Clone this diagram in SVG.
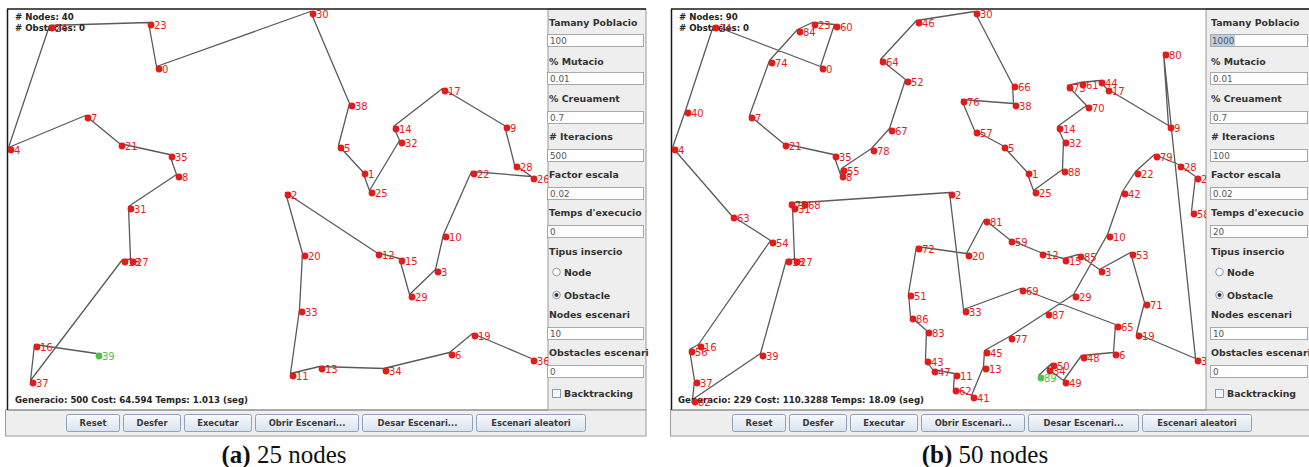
<svg xmlns="http://www.w3.org/2000/svg" width="1309" height="467" viewBox="0 0 1309 467">
<defs>
<style>
.canvas{fill:#ffffff}
.frame{fill:none;stroke:#1a1a1a;stroke-width:1.5}
.side{fill:#eeeeee;stroke:#9a9a9a;stroke-width:1}
.panel{fill:#eeeeee;stroke:#9a9a9a;stroke-width:1}
.edge{fill:none;stroke:#5a5a5a;stroke-width:1.3;stroke-linejoin:round}
.n circle{fill:#e31b1b}
.n text{font-family:"DejaVu Sans",sans-serif;font-size:10px;fill:#e31b1b}
.start circle{fill:#4cc24c}
.start text{fill:#4cc24c}
.hdr{font-family:"DejaVu Sans",sans-serif;font-weight:bold;font-size:8.6px;fill:#222}
.sl{font-family:"DejaVu Sans",sans-serif;font-weight:bold;font-size:9.4px;fill:#333}
.fld{fill:#ffffff;stroke:#a8a8a8;stroke-width:1}
.ft{font-family:"DejaVu Sans",sans-serif;font-size:8.8px;fill:#555}
.btn{fill:url(#bg);stroke:#8ea3bb;stroke-width:1}
.bt{font-family:"DejaVu Sans",sans-serif;font-weight:bold;font-size:8.4px;fill:#3a3a3a;text-anchor:middle}
.cap{font-family:"Liberation Serif",serif;font-size:25px;fill:#111;text-anchor:middle}
.radio{fill:#ffffff;stroke:#8a9bb0;stroke-width:1}
</style>
<linearGradient id="bg" x1="0" y1="0" x2="0" y2="1">
<stop offset="0" stop-color="#f7f9fc"/>
<stop offset="1" stop-color="#d9e3ee"/>
</linearGradient>
<clipPath id="clipA"><rect x="8" y="9" width="540" height="401"/></clipPath>
<clipPath id="clipB"><rect x="672" y="9" width="534" height="401"/></clipPath>
</defs>
<rect width="1309" height="467" fill="#ffffff"/>

<!-- ===== Left window (a) ===== -->
<g id="windowA">
<rect class="canvas" x="8" y="9" width="540" height="401"/>
<rect class="side" x="548" y="9" width="98" height="401"/>
<rect class="panel" x="5.5" y="410" width="640.5" height="26"/>
<line class="frame" x1="7" y1="9" x2="646" y2="9"/>
<line class="frame" x1="7.5" y1="9" x2="7.5" y2="410"/>
<line x1="8" y1="410" x2="548" y2="410" stroke="#888" stroke-width="1"/>
</g>

<g id="connectorsA" clip-path="url(#clipA)">
<polyline class="edge" transform="translate(-2.5,-2.5)" points="99,356 37,347 33,383 125,262 133,262 131,209 179,177 172,157 122,146 88,118 11,150 52,28 151,25 159,69 313,14 352,106 341,148 365,174 372,193 402,143 396,129 445,91 507,128 517,167 534,179 474,174 446,237 438,272 412,297 402,261 379,255 288,195 305,256 302,312 293,376 322,369 386,371 452,355 475,336 534,361"/>
</g>

<g id="infoA">
<text class="hdr" x="15" y="20">#  Nodes: 40</text>
<text class="hdr" x="15" y="31"># Obstacles: 0</text>
<text class="hdr" x="15" y="403" textLength="233">Generacio: 500 Cost: 64.594 Temps: 1.013 (seg)</text>
</g>

<g id="nodesA" clip-path="url(#clipA)">
<g id="a-n0" class="n" transform="translate(159,69)"><circle r="3.4"/><text x="3" y="3.5">0</text></g>
<g id="a-n1" class="n" transform="translate(365,174)"><circle r="3.4"/><text x="3" y="3.5">1</text></g>
<g id="a-n2" class="n" transform="translate(288,195)"><circle r="3.4"/><text x="3" y="3.5">2</text></g>
<g id="a-n3" class="n" transform="translate(438,272)"><circle r="3.4"/><text x="3" y="3.5">3</text></g>
<g id="a-n4" class="n" transform="translate(11,150)"><circle r="3.4"/><text x="3" y="3.5">4</text></g>
<g id="a-n5" class="n" transform="translate(341,148)"><circle r="3.4"/><text x="3" y="3.5">5</text></g>
<g id="a-n6" class="n" transform="translate(452,355)"><circle r="3.4"/><text x="3" y="3.5">6</text></g>
<g id="a-n7" class="n" transform="translate(88,118)"><circle r="3.4"/><text x="3" y="3.5">7</text></g>
<g id="a-n8" class="n" transform="translate(179,177)"><circle r="3.4"/><text x="3" y="3.5">8</text></g>
<g id="a-n9" class="n" transform="translate(507,128)"><circle r="3.4"/><text x="3" y="3.5">9</text></g>
<g id="a-n10" class="n" transform="translate(446,237)"><circle r="3.4"/><text x="3" y="3.5">10</text></g>
<g id="a-n11" class="n" transform="translate(293,376)"><circle r="3.4"/><text x="3" y="3.5">11</text></g>
<g id="a-n12" class="n" transform="translate(379,255)"><circle r="3.4"/><text x="3" y="3.5">12</text></g>
<g id="a-n13" class="n" transform="translate(322,369)"><circle r="3.4"/><text x="3" y="3.5">13</text></g>
<g id="a-n14" class="n" transform="translate(396,129)"><circle r="3.4"/><text x="3" y="3.5">14</text></g>
<g id="a-n15" class="n" transform="translate(402,261)"><circle r="3.4"/><text x="3" y="3.5">15</text></g>
<g id="a-n16" class="n" transform="translate(37,347)"><circle r="3.4"/><text x="3" y="3.5">16</text></g>
<g id="a-n17" class="n" transform="translate(445,91)"><circle r="3.4"/><text x="3" y="3.5">17</text></g>
<g id="a-n18" class="n" transform="translate(125,262)"><circle r="3.4"/><text x="3" y="3.5">18</text></g>
<g id="a-n19" class="n" transform="translate(475,336)"><circle r="3.4"/><text x="3" y="3.5">19</text></g>
<g id="a-n20" class="n" transform="translate(305,256)"><circle r="3.4"/><text x="3" y="3.5">20</text></g>
<g id="a-n21" class="n" transform="translate(122,146)"><circle r="3.4"/><text x="3" y="3.5">21</text></g>
<g id="a-n22" class="n" transform="translate(474,174)"><circle r="3.4"/><text x="3" y="3.5">22</text></g>
<g id="a-n23" class="n" transform="translate(151,25)"><circle r="3.4"/><text x="3" y="3.5">23</text></g>
<g id="a-n24" class="n" transform="translate(52,28)"><circle r="3.4"/><text x="3" y="3.5">24</text></g>
<g id="a-n25" class="n" transform="translate(372,193)"><circle r="3.4"/><text x="3" y="3.5">25</text></g>
<g id="a-n26" class="n" transform="translate(534,179)"><circle r="3.4"/><text x="3" y="3.5">26</text></g>
<g id="a-n27" class="n" transform="translate(133,262)"><circle r="3.4"/><text x="3" y="3.5">27</text></g>
<g id="a-n28" class="n" transform="translate(517,167)"><circle r="3.4"/><text x="3" y="3.5">28</text></g>
<g id="a-n29" class="n" transform="translate(412,297)"><circle r="3.4"/><text x="3" y="3.5">29</text></g>
<g id="a-n30" class="n" transform="translate(313,14)"><circle r="3.4"/><text x="3" y="3.5">30</text></g>
<g id="a-n31" class="n" transform="translate(131,209)"><circle r="3.4"/><text x="3" y="3.5">31</text></g>
<g id="a-n32" class="n" transform="translate(402,143)"><circle r="3.4"/><text x="3" y="3.5">32</text></g>
<g id="a-n33" class="n" transform="translate(302,312)"><circle r="3.4"/><text x="3" y="3.5">33</text></g>
<g id="a-n34" class="n" transform="translate(386,371)"><circle r="3.4"/><text x="3" y="3.5">34</text></g>
<g id="a-n35" class="n" transform="translate(172,157)"><circle r="3.4"/><text x="3" y="3.5">35</text></g>
<g id="a-n36" class="n" transform="translate(534,361)"><circle r="3.4"/><text x="3" y="3.5">36</text></g>
<g id="a-n37" class="n" transform="translate(33,383)"><circle r="3.4"/><text x="3" y="3.5">37</text></g>
<g id="a-n38" class="n" transform="translate(352,106)"><circle r="3.4"/><text x="3" y="3.5">38</text></g>
<g id="a-n39" class="n start" transform="translate(99,356)"><circle r="3.4"/><text x="3" y="3.5">39</text></g>
</g>

<g id="sidebarA">
<text class="sl" x="549" y="26">Tamany Poblacio</text>
<rect class="fld" x="547.5" y="34.5" width="96" height="12"/><text class="ft" x="550" y="44">100</text>
<text class="sl" x="549" y="65">% Mutacio</text>
<rect class="fld" x="547.5" y="72.5" width="96" height="12"/><text class="ft" x="550" y="82">0.01</text>
<text class="sl" x="549" y="102">% Creuament</text>
<rect class="fld" x="547.5" y="111.5" width="96" height="12"/><text class="ft" x="550" y="121">0.7</text>
<text class="sl" x="549" y="140">#  Iteracions</text>
<rect class="fld" x="547.5" y="149.5" width="96" height="12"/><text class="ft" x="550" y="159">500</text>
<text class="sl" x="549" y="178">Factor escala</text>
<rect class="fld" x="547.5" y="187.5" width="96" height="12"/><text class="ft" x="550" y="197">0.02</text>
<text class="sl" x="549" y="216">Temps d'execucio</text>
<rect class="fld" x="547.5" y="225.5" width="96" height="12"/><text class="ft" x="550" y="235">0</text>
<text class="sl" x="549" y="255">Tipus insercio</text>
<circle class="radio" cx="556.5" cy="272" r="3.8"/><text class="sl" x="564" y="275.5">Node</text>
<circle class="radio" cx="556.5" cy="295" r="3.8"/><circle cx="556.5" cy="295" r="2" fill="#333"/><text class="sl" x="564" y="298.5">Obstacle</text>
<text class="sl" x="549" y="318">Nodes escenari</text>
<rect class="fld" x="547.5" y="327.5" width="96" height="12"/><text class="ft" x="550" y="337">10</text>
<text class="sl" x="549" y="356">Obstacles escenari</text>
<rect class="fld" x="547.5" y="365.5" width="96" height="12"/><text class="ft" x="550" y="375">0</text>
<rect x="552.5" y="389.5" width="8" height="8" fill="#f4f7fb" stroke="#8a9bb0"/><text class="sl" x="564" y="397">Backtracking</text>
</g>

<g id="buttonsA">
<rect class="btn" x="66.5" y="414.5" width="53" height="17" rx="2"/><text class="bt" x="93" y="426">Reset</text>
<rect class="btn" x="123.5" y="414.5" width="57" height="17" rx="2"/><text class="bt" x="152" y="426">Desfer</text>
<rect class="btn" x="184.5" y="414.5" width="67" height="17" rx="2"/><text class="bt" x="218" y="426">Executar</text>
<rect class="btn" x="255.5" y="414.5" width="103" height="17" rx="2"/><text class="bt" x="307" y="426">Obrir Escenari...</text>
<rect class="btn" x="362.5" y="414.5" width="110" height="17" rx="2"/><text class="bt" x="417.5" y="426">Desar Escenari...</text>
<rect class="btn" x="476.5" y="414.5" width="109" height="17" rx="2"/><text class="bt" x="531" y="426">Escenari aleatori</text>
</g>

<text id="captionA" class="cap" x="284" y="463"><tspan font-weight="bold">(a)</tspan> 25 nodes</text>

<!-- ===== Right window (b) ===== -->
<g id="windowB">
<rect class="canvas" x="672" y="9" width="534" height="401"/>
<rect class="side" x="1206" y="9" width="104" height="401"/>
<rect class="panel" x="670.5" y="410" width="640" height="26"/>
<line class="frame" x1="671" y1="9" x2="1309" y2="9"/>
<line class="frame" x1="671.5" y1="9" x2="671.5" y2="410"/>
<line x1="672" y1="410" x2="1206" y2="410" stroke="#888" stroke-width="1"/>
</g>

<g id="connectorsB" clip-path="url(#clipB)">
<polyline class="edge" transform="translate(-2.5,-2.5)" points="1041,378 1054,366 1050,371 1066,383 1084,358 1116,355 1118,327 1023,291 966,312 952,195 805,205 792,205 795,209 797,262 789,262 763,356 695,402 697,383 692,352 701,347 773,243 734,218 675,150 688,113 716,28 823,69 837,27 815,25 800,32 772,63 752,118 786,146 836,157 843,177 844,171 874,151 892,131 908,82 883,62 919,23 977,14 1015,87 1016,106 964,102 977,133 1005,148 1029,174 1036,193 1065,172 1066,143 1060,129 1089,108 1070,88 1083,85 1102,83 1109,91 1171,128 1166,55 1198,361 1139,336 1147,305 1133,255 1102,272 1081,257 1066,261 1043,255 1012,242 987,222 969,256 919,249 911,296 913,319 929,333 928,362 935,372 957,376 956,391 974,398 986,369 987,353 1012,339 1049,315 1076,297 1110,237 1125,194 1138,174 1157,157 1181,167 1198,179 1194,214"/>
</g>

<g id="infoB">
<text class="hdr" x="679" y="20">#  Nodes: 90</text>
<text class="hdr" x="679" y="31"># Obstacles: 0</text>
<text class="hdr" x="678" y="403" textLength="246">Generacio: 229 Cost: 110.3288 Temps: 18.09 (seg)</text>
</g>

<g id="nodesB" clip-path="url(#clipB)">
<g id="b-n0" class="n" transform="translate(823,69)"><circle r="3.4"/><text x="3" y="3.5">0</text></g>
<g id="b-n1" class="n" transform="translate(1029,174)"><circle r="3.4"/><text x="3" y="3.5">1</text></g>
<g id="b-n2" class="n" transform="translate(952,195)"><circle r="3.4"/><text x="3" y="3.5">2</text></g>
<g id="b-n3" class="n" transform="translate(1102,272)"><circle r="3.4"/><text x="3" y="3.5">3</text></g>
<g id="b-n4" class="n" transform="translate(675,150)"><circle r="3.4"/><text x="3" y="3.5">4</text></g>
<g id="b-n5" class="n" transform="translate(1005,148)"><circle r="3.4"/><text x="3" y="3.5">5</text></g>
<g id="b-n6" class="n" transform="translate(1116,355)"><circle r="3.4"/><text x="3" y="3.5">6</text></g>
<g id="b-n7" class="n" transform="translate(752,118)"><circle r="3.4"/><text x="3" y="3.5">7</text></g>
<g id="b-n8" class="n" transform="translate(843,177)"><circle r="3.4"/><text x="3" y="3.5">8</text></g>
<g id="b-n9" class="n" transform="translate(1171,128)"><circle r="3.4"/><text x="3" y="3.5">9</text></g>
<g id="b-n10" class="n" transform="translate(1110,237)"><circle r="3.4"/><text x="3" y="3.5">10</text></g>
<g id="b-n11" class="n" transform="translate(957,376)"><circle r="3.4"/><text x="3" y="3.5">11</text></g>
<g id="b-n12" class="n" transform="translate(1043,255)"><circle r="3.4"/><text x="3" y="3.5">12</text></g>
<g id="b-n13" class="n" transform="translate(986,369)"><circle r="3.4"/><text x="3" y="3.5">13</text></g>
<g id="b-n14" class="n" transform="translate(1060,129)"><circle r="3.4"/><text x="3" y="3.5">14</text></g>
<g id="b-n15" class="n" transform="translate(1066,261)"><circle r="3.4"/><text x="3" y="3.5">15</text></g>
<g id="b-n16" class="n" transform="translate(701,347)"><circle r="3.4"/><text x="3" y="3.5">16</text></g>
<g id="b-n17" class="n" transform="translate(1109,91)"><circle r="3.4"/><text x="3" y="3.5">17</text></g>
<g id="b-n18" class="n" transform="translate(789,262)"><circle r="3.4"/><text x="3" y="3.5">18</text></g>
<g id="b-n19" class="n" transform="translate(1139,336)"><circle r="3.4"/><text x="3" y="3.5">19</text></g>
<g id="b-n20" class="n" transform="translate(969,256)"><circle r="3.4"/><text x="3" y="3.5">20</text></g>
<g id="b-n21" class="n" transform="translate(786,146)"><circle r="3.4"/><text x="3" y="3.5">21</text></g>
<g id="b-n22" class="n" transform="translate(1138,174)"><circle r="3.4"/><text x="3" y="3.5">22</text></g>
<g id="b-n23" class="n" transform="translate(815,25)"><circle r="3.4"/><text x="3" y="3.5">23</text></g>
<g id="b-n24" class="n" transform="translate(716,28)"><circle r="3.4"/><text x="3" y="3.5">24</text></g>
<g id="b-n25" class="n" transform="translate(1036,193)"><circle r="3.4"/><text x="3" y="3.5">25</text></g>
<g id="b-n26" class="n" transform="translate(1198,179)"><circle r="3.4"/><text x="3" y="3.5">26</text></g>
<g id="b-n27" class="n" transform="translate(797,262)"><circle r="3.4"/><text x="3" y="3.5">27</text></g>
<g id="b-n28" class="n" transform="translate(1181,167)"><circle r="3.4"/><text x="3" y="3.5">28</text></g>
<g id="b-n29" class="n" transform="translate(1076,297)"><circle r="3.4"/><text x="3" y="3.5">29</text></g>
<g id="b-n30" class="n" transform="translate(977,14)"><circle r="3.4"/><text x="3" y="3.5">30</text></g>
<g id="b-n31" class="n" transform="translate(795,209)"><circle r="3.4"/><text x="3" y="3.5">31</text></g>
<g id="b-n32" class="n" transform="translate(1066,143)"><circle r="3.4"/><text x="3" y="3.5">32</text></g>
<g id="b-n33" class="n" transform="translate(966,312)"><circle r="3.4"/><text x="3" y="3.5">33</text></g>
<g id="b-n34" class="n" transform="translate(1050,371)"><circle r="3.4"/><text x="3" y="3.5">34</text></g>
<g id="b-n35" class="n" transform="translate(836,157)"><circle r="3.4"/><text x="3" y="3.5">35</text></g>
<g id="b-n36" class="n" transform="translate(1198,361)"><circle r="3.4"/><text x="3" y="3.5">36</text></g>
<g id="b-n37" class="n" transform="translate(697,383)"><circle r="3.4"/><text x="3" y="3.5">37</text></g>
<g id="b-n38" class="n" transform="translate(1016,106)"><circle r="3.4"/><text x="3" y="3.5">38</text></g>
<g id="b-n39" class="n" transform="translate(763,356)"><circle r="3.4"/><text x="3" y="3.5">39</text></g>
<g id="b-n40" class="n" transform="translate(688,113)"><circle r="3.4"/><text x="3" y="3.5">40</text></g>
<g id="b-n41" class="n" transform="translate(974,398)"><circle r="3.4"/><text x="3" y="3.5">41</text></g>
<g id="b-n42" class="n" transform="translate(1125,194)"><circle r="3.4"/><text x="3" y="3.5">42</text></g>
<g id="b-n43" class="n" transform="translate(928,362)"><circle r="3.4"/><text x="3" y="3.5">43</text></g>
<g id="b-n44" class="n" transform="translate(1102,83)"><circle r="3.4"/><text x="3" y="3.5">44</text></g>
<g id="b-n45" class="n" transform="translate(987,353)"><circle r="3.4"/><text x="3" y="3.5">45</text></g>
<g id="b-n46" class="n" transform="translate(919,23)"><circle r="3.4"/><text x="3" y="3.5">46</text></g>
<g id="b-n47" class="n" transform="translate(935,372)"><circle r="3.4"/><text x="3" y="3.5">47</text></g>
<g id="b-n48" class="n" transform="translate(1084,358)"><circle r="3.4"/><text x="3" y="3.5">48</text></g>
<g id="b-n49" class="n" transform="translate(1066,383)"><circle r="3.4"/><text x="3" y="3.5">49</text></g>
<g id="b-n50" class="n" transform="translate(1054,366)"><circle r="3.4"/><text x="3" y="3.5">50</text></g>
<g id="b-n51" class="n" transform="translate(911,296)"><circle r="3.4"/><text x="3" y="3.5">51</text></g>
<g id="b-n52" class="n" transform="translate(908,82)"><circle r="3.4"/><text x="3" y="3.5">52</text></g>
<g id="b-n53" class="n" transform="translate(1133,255)"><circle r="3.4"/><text x="3" y="3.5">53</text></g>
<g id="b-n54" class="n" transform="translate(773,243)"><circle r="3.4"/><text x="3" y="3.5">54</text></g>
<g id="b-n55" class="n" transform="translate(844,171)"><circle r="3.4"/><text x="3" y="3.5">55</text></g>
<g id="b-n56" class="n" transform="translate(692,352)"><circle r="3.4"/><text x="3" y="3.5">56</text></g>
<g id="b-n57" class="n" transform="translate(977,133)"><circle r="3.4"/><text x="3" y="3.5">57</text></g>
<g id="b-n58" class="n" transform="translate(1194,214)"><circle r="3.4"/><text x="3" y="3.5">58</text></g>
<g id="b-n59" class="n" transform="translate(1012,242)"><circle r="3.4"/><text x="3" y="3.5">59</text></g>
<g id="b-n60" class="n" transform="translate(837,27)"><circle r="3.4"/><text x="3" y="3.5">60</text></g>
<g id="b-n61" class="n" transform="translate(1083,85)"><circle r="3.4"/><text x="3" y="3.5">61</text></g>
<g id="b-n62" class="n" transform="translate(956,391)"><circle r="3.4"/><text x="3" y="3.5">62</text></g>
<g id="b-n63" class="n" transform="translate(734,218)"><circle r="3.4"/><text x="3" y="3.5">63</text></g>
<g id="b-n64" class="n" transform="translate(883,62)"><circle r="3.4"/><text x="3" y="3.5">64</text></g>
<g id="b-n65" class="n" transform="translate(1118,327)"><circle r="3.4"/><text x="3" y="3.5">65</text></g>
<g id="b-n66" class="n" transform="translate(1015,87)"><circle r="3.4"/><text x="3" y="3.5">66</text></g>
<g id="b-n67" class="n" transform="translate(892,131)"><circle r="3.4"/><text x="3" y="3.5">67</text></g>
<g id="b-n68" class="n" transform="translate(805,205)"><circle r="3.4"/><text x="3" y="3.5">68</text></g>
<g id="b-n69" class="n" transform="translate(1023,291)"><circle r="3.4"/><text x="3" y="3.5">69</text></g>
<g id="b-n70" class="n" transform="translate(1089,108)"><circle r="3.4"/><text x="3" y="3.5">70</text></g>
<g id="b-n71" class="n" transform="translate(1147,305)"><circle r="3.4"/><text x="3" y="3.5">71</text></g>
<g id="b-n72" class="n" transform="translate(919,249)"><circle r="3.4"/><text x="3" y="3.5">72</text></g>
<g id="b-n73" class="n" transform="translate(1070,88)"><circle r="3.4"/><text x="3" y="3.5">73</text></g>
<g id="b-n74" class="n" transform="translate(772,63)"><circle r="3.4"/><text x="3" y="3.5">74</text></g>
<g id="b-n75" class="n" transform="translate(792,205)"><circle r="3.4"/><text x="3" y="3.5">75</text></g>
<g id="b-n76" class="n" transform="translate(964,102)"><circle r="3.4"/><text x="3" y="3.5">76</text></g>
<g id="b-n77" class="n" transform="translate(1012,339)"><circle r="3.4"/><text x="3" y="3.5">77</text></g>
<g id="b-n78" class="n" transform="translate(874,151)"><circle r="3.4"/><text x="3" y="3.5">78</text></g>
<g id="b-n79" class="n" transform="translate(1157,157)"><circle r="3.4"/><text x="3" y="3.5">79</text></g>
<g id="b-n80" class="n" transform="translate(1166,55)"><circle r="3.4"/><text x="3" y="3.5">80</text></g>
<g id="b-n81" class="n" transform="translate(987,222)"><circle r="3.4"/><text x="3" y="3.5">81</text></g>
<g id="b-n82" class="n" transform="translate(695,402)"><circle r="3.4"/><text x="3" y="3.5">82</text></g>
<g id="b-n83" class="n" transform="translate(929,333)"><circle r="3.4"/><text x="3" y="3.5">83</text></g>
<g id="b-n84" class="n" transform="translate(800,32)"><circle r="3.4"/><text x="3" y="3.5">84</text></g>
<g id="b-n85" class="n" transform="translate(1081,257)"><circle r="3.4"/><text x="3" y="3.5">85</text></g>
<g id="b-n86" class="n" transform="translate(913,319)"><circle r="3.4"/><text x="3" y="3.5">86</text></g>
<g id="b-n87" class="n" transform="translate(1049,315)"><circle r="3.4"/><text x="3" y="3.5">87</text></g>
<g id="b-n88" class="n" transform="translate(1065,172)"><circle r="3.4"/><text x="3" y="3.5">88</text></g>
<g id="b-n89" class="n start" transform="translate(1041,378)"><circle r="3.4"/><text x="3" y="3.5">89</text></g>
</g>

<g id="sidebarB">
<text class="sl" x="1211" y="26">Tamany Poblacio</text>
<rect class="fld" x="1210.5" y="34.5" width="97" height="12"/><rect x="1211" y="35" width="24" height="11" fill="#b9cde4"/><text class="ft" x="1212" y="44">1000</text>
<text class="sl" x="1211" y="65">% Mutacio</text>
<rect class="fld" x="1210.5" y="72.5" width="97" height="12"/><text class="ft" x="1213" y="82">0.01</text>
<text class="sl" x="1211" y="102">% Creuament</text>
<rect class="fld" x="1210.5" y="111.5" width="97" height="12"/><text class="ft" x="1213" y="121">0.7</text>
<text class="sl" x="1211" y="140">#  Iteracions</text>
<rect class="fld" x="1210.5" y="149.5" width="97" height="12"/><text class="ft" x="1213" y="159">100</text>
<text class="sl" x="1211" y="178">Factor escala</text>
<rect class="fld" x="1210.5" y="187.5" width="97" height="12"/><text class="ft" x="1213" y="197">0.02</text>
<text class="sl" x="1211" y="216">Temps d'execucio</text>
<rect class="fld" x="1210.5" y="225.5" width="97" height="12"/><text class="ft" x="1213" y="235">20</text>
<text class="sl" x="1211" y="255">Tipus insercio</text>
<circle class="radio" cx="1219.5" cy="272" r="3.8"/><text class="sl" x="1227" y="275.5">Node</text>
<circle class="radio" cx="1219.5" cy="295" r="3.8"/><circle cx="1219.5" cy="295" r="2" fill="#333"/><text class="sl" x="1227" y="298.5">Obstacle</text>
<text class="sl" x="1211" y="318">Nodes escenari</text>
<rect class="fld" x="1210.5" y="327.5" width="97" height="12"/><text class="ft" x="1213" y="337">10</text>
<text class="sl" x="1211" y="356">Obstacles escenari</text>
<rect class="fld" x="1210.5" y="365.5" width="97" height="12"/><text class="ft" x="1213" y="375">0</text>
<rect x="1215.5" y="389.5" width="8" height="8" fill="#f4f7fb" stroke="#8a9bb0"/><text class="sl" x="1227" y="397">Backtracking</text>
</g>

<g id="buttonsB">
<rect class="btn" x="732.5" y="414.5" width="53" height="17" rx="2"/><text class="bt" x="759" y="426">Reset</text>
<rect class="btn" x="789.5" y="414.5" width="57" height="17" rx="2"/><text class="bt" x="818" y="426">Desfer</text>
<rect class="btn" x="850.5" y="414.5" width="67" height="17" rx="2"/><text class="bt" x="884" y="426">Executar</text>
<rect class="btn" x="921.5" y="414.5" width="103" height="17" rx="2"/><text class="bt" x="973" y="426">Obrir Escenari...</text>
<rect class="btn" x="1028.5" y="414.5" width="110" height="17" rx="2"/><text class="bt" x="1083.5" y="426">Desar Escenari...</text>
<rect class="btn" x="1142.5" y="414.5" width="109" height="17" rx="2"/><text class="bt" x="1197" y="426">Escenari aleatori</text>
</g>

<text id="captionB" class="cap" x="985" y="463"><tspan font-weight="bold">(b)</tspan> 50 nodes</text>
</svg>
